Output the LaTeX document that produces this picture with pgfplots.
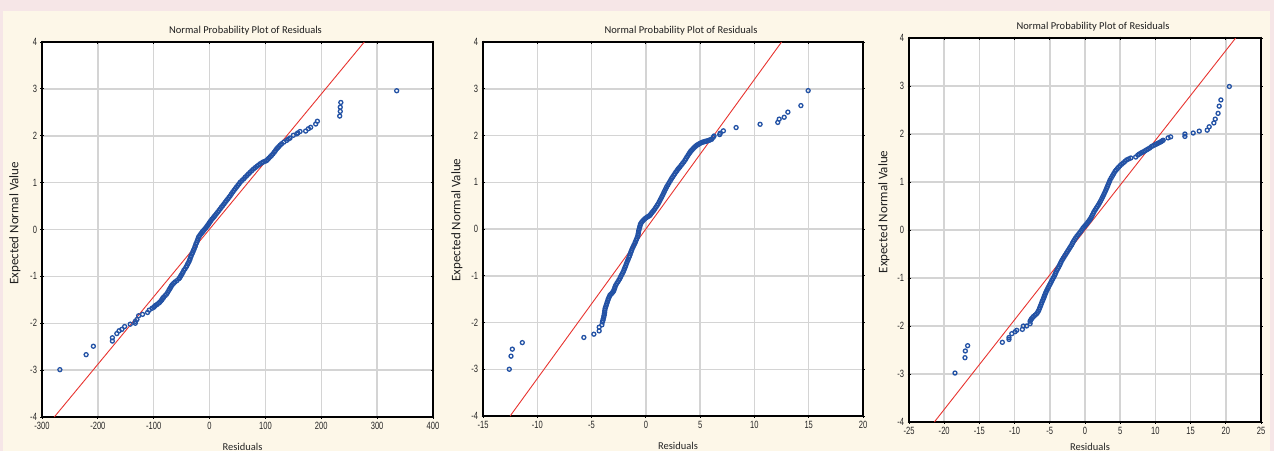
\documentclass[border=0pt]{standalone}
\usepackage{fontspec}
\setmainfont{Carlito}
\newfontfamily\tickfont[FakeStretch=0.72]{Liberation Sans}
\usepackage{pgfplots}
\pgfplotsset{compat=1.18}

\definecolor{bgpink}{RGB}{246,230,231}
\definecolor{bgcream}{RGB}{253,247,232}
\definecolor{ptblue}{RGB}{35,82,165}
\definecolor{fitred}{RGB}{232,52,48}
\definecolor{gridgray}{RGB}{212,212,212}

\pgfplotsset{
  npp/.style={
    scale only axis,
    anchor=south west,
    axis background/.style={fill=white},
    axis line style={black, line width=1.4pt},
    grid=major,
    major grid style={gridgray, line width=1.5pt},
    tick style={black, line width=0.9pt},
    major tick length=3pt,
    tick align=center,
    ymin=-4, ymax=4,
    ytick={-4,-3,-2,-1,0,1,2,3,4},
    yticklabels={-4,-3,-2,-1,0,1,2,3,4},
    ticklabel style={font=\tickfont\fontsize{10.5}{12}\selectfont, text=black!85},
    title={Normal Probability Plot of Residuals},
    title style={font=\fontsize{10.5}{12}\selectfont, text=black!88,
      at={(rel axis cs:0.5,1)}, anchor=center, yshift=5pt, xshift=8pt},
    xlabel={Residuals},
    xlabel style={font=\fontsize{10.5}{12}\selectfont, text=black!85,
      at={(rel axis cs:0.5,0)}, anchor=center, yshift=-30pt, xshift=5pt},
    ylabel={Expected Normal Value},
    ylabel style={font=\fontsize{13}{14}\selectfont, text=black!88,
      anchor=center},
  },
  pts/.style={only marks, mark=o, mark size=2pt,
    mark options={ptblue, line width=1.3pt}},
  fit/.style={fitred, line width=0.9pt, no marks},
}

\begin{document}
\begin{tikzpicture}[x=1pt,y=1pt]
\useasboundingbox (0,0) rectangle (1274,451);
\fill[bgpink] (0,0) rectangle (1274,451);
\fill[bgcream] (3,0) rectangle (1270,440);

% ---- panel 1
\begin{axis}[npp, at={(42pt,34pt)}, width=391pt, height=375pt,
  xmin=-300, xmax=400,
  xtick={-300,-200,-100,0,100,200,300,400},
  xticklabels={-300,-200,-100,0,100,200,300,400},
  ylabel style={at={(rel axis cs:0,0.517)}, yshift=27pt}]
\addplot[pts] coordinates {
(-268,-2.99) (-221,-2.67) (-208,-2.49) (-174,-2.38) (-174,-2.31)
(-166,-2.22) (-162,-2.16) (-157,-2.13) (-152,-2.07) (-142,-2.02)
(-133,-2.00) (-133,-1.96) (-130,-1.92) (-127,-1.84) (-120,-1.81)
(-111,-1.77) (-108,-1.72) (-103,-1.68)
(-100,-1.66) (-97,-1.62) (-91,-1.57) (-87,-1.52) (-84,-1.47)
(-82,-1.44) (-77,-1.38) (-73,-1.30) (-70,-1.24) (-67,-1.18)
(-62,-1.12) (-55,-1.05) (-52,-1.00) (-49,-0.94) (-46,-0.87)
(-42,-0.80) (-39,-0.73) (-36,-0.66) (-34,-0.59) (-31.5,-0.52)
(-29,-0.45) (-26.5,-0.38) (-24.5,-0.31) (-22,-0.24) (-19.6,-0.16)
(-16,-0.10) (-13,-0.05) (-10.7,-0.02) (-7,0.03) (-3.6,0.085)
(-0.5,0.14) (2.4,0.19) (6.5,0.25) (10,0.30) (14.5,0.37)
(19,0.44) (23.5,0.51) (28,0.58) (32.5,0.65) (37,0.72)
(41.5,0.80) (46,0.87) (50.5,0.94) (55,1.01) (61,1.08)
(66.7,1.15) (72.5,1.22) (78.6,1.29) (85,1.35) (90.5,1.40)
(96,1.44) (102,1.47) (106,1.52) (111,1.58) (116,1.65)
(120,1.72) (124,1.77) (129,1.83)
(138,1.90) (141,1.93) (144,1.95) (150,2.01) (156,2.04)
(158,2.06) (162,2.09) (172,2.10) (177,2.15) (181,2.18)
(190,2.25) (193,2.31) (233,2.42) (234,2.52) (234,2.61)
(235,2.71) (335,2.96)
};
\addplot[pts] coordinates {
(-98.5,-1.64) (-94,-1.60) (-89,-1.55) (-85.5,-1.50) (-83,-1.46)
(-79.5,-1.41) (-75,-1.34) (-71.5,-1.27) (-68.5,-1.21) (-64.5,-1.15)
(-58.5,-1.09) (-53.5,-1.03) (-50.5,-0.97) (-47.5,-0.91) (-44,-0.84)
(-40.5,-0.77) (-37.5,-0.70) (-35,-0.63) (-32.8,-0.56) (-30.2,-0.49)
(-27.8,-0.42) (-25.5,-0.35) (-23.2,-0.28) (-20.8,-0.20) (-17.8,-0.13)
(-14.5,-0.08) (-11.8,-0.04) (-8.8,0.005) (-5.3,0.06) (-2,0.11)
(1,0.165) (4.4,0.22) (8.2,0.275) (12.2,0.335) (16.8,0.405)
(21.2,0.475) (25.8,0.545) (30.2,0.615) (34.8,0.685) (39.2,0.76)
(43.8,0.835) (48.2,0.905) (52.8,0.975) (58,1.045) (63.8,1.115)
(69.6,1.185) (75.5,1.255) (81.8,1.32) (87.8,1.375) (93.2,1.42)
(99,1.455) (104,1.495) (108.5,1.55) (113.5,1.615) (118,1.685)
(122,1.745) (126.5,1.80) (133,1.865)
};
\addplot[fit] coordinates {(-278,-4) (277,4)};
\end{axis}

% ---- panel 2
\begin{axis}[npp, at={(483pt,35pt)}, width=380pt, height=374pt,
  xmin=-15, xmax=20,
  xtick={-15,-10,-5,0,5,10,15,20},
  xticklabels={-15,-10,-5,0,5,10,15,20},
  ylabel style={at={(rel axis cs:0,0.524)}, yshift=26pt}]
\addplot[pts] coordinates {
(-12.58,-3.00) (-12.42,-2.72) (-12.30,-2.57) (-11.38,-2.43)
(-5.71,-2.32) (-4.79,-2.25) (-4.30,-2.18) (-4.30,-2.10)
(-4.05,-2.05) (-4.0,-1.99) (-3.92,-1.92) (-3.85,-1.85)
(-3.80,-1.78) (-3.75,-1.70) (-3.65,-1.63) (-3.55,-1.56)
(-3.45,-1.49) (-3.32,-1.42) (-3.15,-1.38) (-2.98,-1.33)
(-2.88,-1.27) (-2.77,-1.20) (-2.58,-1.13) (-2.40,-1.06)
(-2.25,-0.99) (-2.09,-0.92) (-1.97,-0.85) (-1.85,-0.78)
(-1.70,-0.69) (-1.54,-0.60) (-1.43,-0.53) (-1.32,-0.46)
(-1.17,-0.38) (-1.02,-0.31) (-0.90,-0.24) (-0.77,-0.17)
(-0.70,-0.10) (-0.65,-0.03) (-0.57,0.04) (-0.49,0.11)
(-0.30,0.17) (-0.09,0.22) (0.15,0.26) (0.37,0.29)
(0.55,0.35) (0.74,0.40) (0.94,0.47) (1.14,0.54)
(1.34,0.63) (1.54,0.72) (1.72,0.81) (1.91,0.90)
(2.14,0.99) (2.37,1.08) (2.57,1.15) (2.77,1.22)
(2.96,1.28) (3.14,1.33) (3.37,1.40) (3.60,1.47)
(3.78,1.54) (3.97,1.61) (4.12,1.66) (4.28,1.70)
(4.48,1.75) (4.68,1.79) (4.90,1.82) (5.14,1.85)
(5.4,1.87) (5.6,1.88) (5.85,1.90) (6.06,1.92)
(6.2,1.96) (6.28,1.99) (6.8,2.02) (6.85,2.05)
(7.14,2.10) (8.31,2.17) (10.52,2.24) (12.15,2.28)
(12.28,2.35) (12.74,2.39) (13.08,2.50) (14.28,2.64)
(14.95,2.96)
};
\addplot[pts] coordinates {
(-3.96,-1.955) (-3.88,-1.885) (-3.82,-1.815) (-3.78,-1.74) (-3.70,-1.665)
(-3.60,-1.595) (-3.50,-1.525) (-3.38,-1.455) (-3.24,-1.40) (-3.06,-1.355)
(-2.93,-1.30) (-2.83,-1.235) (-2.68,-1.165) (-2.49,-1.095) (-2.33,-1.025)
(-2.17,-0.955) (-2.03,-0.885) (-1.91,-0.815) (-1.78,-0.735) (-1.62,-0.645)
(-1.49,-0.565) (-1.38,-0.495) (-1.25,-0.42) (-1.10,-0.345) (-0.96,-0.275)
(-0.84,-0.205) (-0.73,-0.135) (-0.68,-0.065) (-0.61,0.005) (-0.53,0.075)
(-0.40,0.14) (-0.20,0.195) (0.03,0.24) (0.26,0.275) (0.46,0.32)
(0.65,0.375) (0.84,0.435) (1.04,0.505) (1.24,0.585) (1.44,0.675)
(1.63,0.765) (1.82,0.855) (2.03,0.945) (2.26,1.035) (2.47,1.115)
(2.67,1.185) (2.87,1.25) (3.05,1.305) (3.26,1.365) (3.49,1.435)
(3.69,1.505) (3.88,1.575) (4.05,1.635) (4.20,1.68) (4.38,1.725)
(4.58,1.77) (4.79,1.805) (5.02,1.835) (5.27,1.86) (5.5,1.875)
(5.72,1.89) (5.95,1.91)
};
\addplot[fit] coordinates {(-12.5,-4) (12.5,4)};
\end{axis}

% ---- panel 3
\begin{axis}[npp, at={(909pt,29pt)}, width=352pt, height=384pt,
  xmin=-25, xmax=25,
  xtick={-25,-20,-15,-10,-5,0,5,10,15,20,25},
  xticklabels={-25,-20,-15,-10,-5,0,5,10,15,20,25},
  xlabel style={yshift=5pt},
  ylabel style={at={(rel axis cs:0,0.547)}, yshift=25pt}]
\addplot[pts] coordinates {
(-18.47,-2.98) (-17.05,-2.66) (-17.0,-2.52) (-16.67,-2.41)
(-11.74,-2.34) (-10.8,-2.28) (-10.8,-2.24) (-10.4,-2.16)
(-9.94,-2.12) (-9.7,-2.09) (-8.9,-2.07) (-8.76,-2.00)
(-8.3,-2.00) (-7.8,-1.95) (-7.8,-1.90) (-7.6,-1.85)
(-7.3,-1.80) (-6.9,-1.75) (-6.62,-1.69) (-6.43,-1.62)
(-6.24,-1.55) (-6.05,-1.48) (-5.85,-1.41) (-5.7,-1.35)
(-5.5,-1.28) (-5.3,-1.22) (-5.05,-1.15) (-4.8,-1.08)
(-4.55,-1.01) (-4.3,-0.94) (-4.1,-0.87) (-3.85,-0.80)
(-3.6,-0.73) (-3.38,-0.66) (-3.1,-0.59) (-2.8,-0.52)
(-2.5,-0.45) (-2.2,-0.38) (-1.9,-0.31) (-1.65,-0.24)
(-1.35,-0.17) (-1.0,-0.10) (-0.65,-0.04) (-0.33,0.03)
(-0.05,0.08) (0.24,0.13) (0.55,0.19) (0.80,0.24)
(1.05,0.31) (1.28,0.38) (1.58,0.45) (1.89,0.52)
(2.2,0.60) (2.51,0.69) (2.8,0.78) (3.07,0.87)
(3.3,0.95) (3.55,1.04) (3.9,1.13) (4.26,1.22)
(4.6,1.28) (4.97,1.34) (5.45,1.40) (5.91,1.46)
(6.5,1.50) (7.2,1.52) (7.5,1.56) (7.9,1.60)
(8.3,1.63) (8.75,1.67) (9.2,1.71) (9.46,1.74)
(10.0,1.78) (10.4,1.81) (10.8,1.84) (11.1,1.87)
(11.8,1.92) (12.16,1.94) (14.19,1.95) (14.19,2.00)
(15.37,2.02) (16.23,2.06) (17.36,2.08) (17.64,2.15)
(18.3,2.23) (18.5,2.31) (18.9,2.43) (19.06,2.58)
(19.3,2.71) (20.5,2.99)
};
\addplot[pts] coordinates {
(-7.7,-1.875) (-7.45,-1.825) (-7.1,-1.775) (-6.76,-1.72) (-6.52,-1.655)
(-6.33,-1.585) (-6.15,-1.515) (-5.95,-1.445) (-5.78,-1.38) (-5.6,-1.315)
(-5.4,-1.25) (-5.18,-1.185) (-4.92,-1.115) (-4.68,-1.045) (-4.42,-0.975)
(-4.2,-0.905) (-3.98,-0.835) (-3.72,-0.765) (-3.49,-0.695) (-3.24,-0.625)
(-2.95,-0.555) (-2.65,-0.485) (-2.35,-0.415) (-2.05,-0.345) (-1.78,-0.275)
(-1.5,-0.205) (-1.18,-0.135) (-0.82,-0.07) (-0.49,-0.005) (-0.19,0.055)
(0.1,0.105) (0.4,0.16) (0.68,0.215) (0.92,0.275) (1.17,0.345)
(1.43,0.415) (1.74,0.485) (2.05,0.56) (2.36,0.645) (2.66,0.735)
(2.94,0.825) (3.19,0.91) (3.43,0.995) (3.72,1.085) (4.08,1.175)
(4.43,1.25) (4.78,1.31) (5.2,1.37) (5.68,1.43) (6.2,1.48)
(7.7,1.58) (8.1,1.615) (8.52,1.65) (8.98,1.69) (9.73,1.76)
(10.2,1.795) (10.6,1.825) (10.95,1.855)
};
\addplot[fit] coordinates {(-21.4,-4) (21.4,4)};
\end{axis}
\end{tikzpicture}
\end{document}
